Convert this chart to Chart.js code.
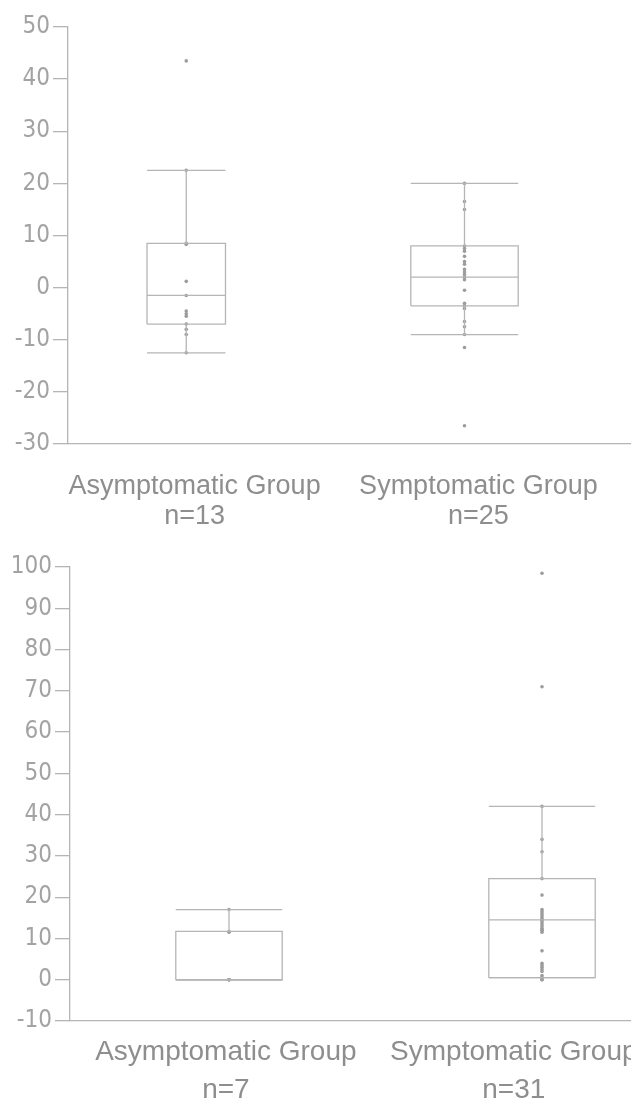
<!DOCTYPE html>
<html>
<head>
<meta charset="utf-8">
<script src="https://cdn.jsdelivr.net/npm/chart.js@4/dist/chart.umd.min.js"></script>
<style>
  html, body { margin: 0; padding: 0; background: #fff; overflow: hidden; }
  .panel { position: absolute; left: 0; width: 700px; }
  #top-panel { top: 0; height: 540px; }
  #bottom-panel { top: 545px; height: 562px; }
</style>
</head>
<body>
<div class="panel" id="top-panel"><canvas id="topChart"></canvas></div>
<div class="panel" id="bottom-panel"><canvas id="bottomChart"></canvas></div>
<script>
// Categories
const groups = ['Asymptomatic Group', 'Symptomatic Group'];

// Top panel - individual values
const topAsymPoints = [43.5, 22.5, 8.5, 8.3, 1.2, -1.5, -4.5, -5.0, -5.5, -7.0, -8.0, -9.0, -12.5];
const topSymPoints = [20, 16.5, 15, 8, 7.5, 7, 6, 5, 4.5, 3.5, 3, 2.5, 2, 2, 1.5, -0.5, -3, -3.5, -3.5, -4, -6.5, -7.5, -9, -11.5, -26.5];
// box stats: [Asymptomatic, Symptomatic]
const topLowWhisker = [-12.5, -9];
const topQ1 = [-7, -3.5];
const topMedian = [-1.5, 2];
const topQ3 = [8.5, 8];
const topHighWhisker = [22.5, 20];
const topTicks = [-30, 50, 10]; // min, max, step

// Bottom panel
const botAsymPoints = [17, 11.7, 11.5, 0, 0, 0, 0];
const botSymPoints = [98.5, 71, 42, 34, 31, 24.5, 20.5, 17, 16.5, 16, 15.5, 15, 14.5, 14.5, 14, 13.5, 13, 12.5, 12, 12, 11.5, 7, 4, 3.5, 3, 2.5, 2, 1, 0.5, 0, 0];
const botLowWhisker = [0, 0.5];
const botQ1 = [0, 0.5];
const botMedian = [0, 14.5];
const botQ3 = [11.7, 24.5];
const botHighWhisker = [17, 42];
const botTicks = [-10, 100, 10];

const lineColor = '#b5b5b5';
const dotColor = '#9c9c9c';
const textColor = '#a3a3a3';

function seg(points) {
    return {
        type: 'scatter',
        data: points,
        showLine: true,
        borderColor: lineColor,
        borderWidth: 1.3,
        pointRadius: 0,
        fill: false
    };
}

// build line segments for each box from the stats arrays
function boxDatasets(low, q1, med, q3, high, halfWidths) {
    const out = [];
    for (let i = 0; i < low.length; i++) {
        const c = i + 1;
        const h = halfWidths[i];
        out.push(seg([{x: c - h, y: q1[i]}, {x: c + h, y: q1[i]}, {x: c + h, y: q3[i]}, {x: c - h, y: q3[i]}, {x: c - h, y: q1[i]}]));
        out.push(seg([{x: c - h, y: med[i]}, {x: c + h, y: med[i]}]));
        out.push(seg([{x: c, y: q3[i]}, {x: c, y: high[i]}]));
        out.push(seg([{x: c - h, y: high[i]}, {x: c + h, y: high[i]}]));
        out.push(seg([{x: c, y: q1[i]}, {x: c, y: low[i]}]));
        out.push(seg([{x: c - h, y: low[i]}, {x: c + h, y: low[i]}]));
    }
    return out;
}

function pointDataset(values, idx) {
    return {
        type: 'scatter',
        data: values.map(v => ({x: idx, y: v})),
        pointRadius: 1.8,
        pointBackgroundColor: dotColor,
        pointBorderWidth: 0,
        showLine: false
    };
}

function makeChart(canvasId, cfg) {
    return new Chart(document.getElementById(canvasId), {
        type: 'scatter',
        data: {
            datasets: [
                ...boxDatasets(cfg.low, cfg.q1, cfg.med, cfg.q3, cfg.high, cfg.halfWidths),
                pointDataset(cfg.asym, 1),
                pointDataset(cfg.sym, 2)
            ]
        },
        options: {
            responsive: true,
            maintainAspectRatio: false,
            animation: false,
            events: [],
            layout: { padding: { top: cfg.padTop, left: 0, right: 0, bottom: 0 } },
            plugins: { legend: { display: false }, tooltip: { enabled: false } },
            scales: {
                x: {
                    type: 'linear',
                    min: cfg.xMin,
                    max: cfg.xMax,
                    // the printed group labels sit a little off the box centres
                    afterBuildTicks: scale => { scale.ticks = cfg.labelAt.map(v => ({value: v})); },
                    afterFit: scale => { scale.height = cfg.xHeight; },
                    grid: { drawOnChartArea: false, drawTicks: false },
                    border: { color: lineColor, width: 1.3 },
                    ticks: {
                        padding: cfg.labelPad,
                        maxRotation: 0,
                        autoSkip: false,
                        color: '#8e8e8e',
                        font: { family: "'Liberation Sans', Arial, sans-serif", size: cfg.labelSize, lineHeight: cfg.labelLh },
                        callback: (v, i) => [groups[i], 'n=' + cfg.counts[i]]
                    }
                },
                y: {
                    min: cfg.yTicks[0],
                    max: cfg.yTicks[1],
                    afterFit: scale => { scale.width = cfg.yWidth; },
                    grid: { drawOnChartArea: false, drawTicks: true, tickLength: 15, color: lineColor, lineWidth: 1.3 },
                    border: { color: lineColor, width: 1.3 },
                    ticks: {
                        stepSize: cfg.yTicks[2],
                        padding: 3,
                        color: textColor,
                        font: { family: "'Liberation Sans Narrow', 'DejaVu Sans Condensed', sans-serif", size: 24 }
                    }
                }
            }
        }
    });
}

makeChart('topChart', {
    asym: topAsymPoints, sym: topSymPoints,
    low: topLowWhisker, q1: topQ1, med: topMedian, q3: topQ3, high: topHighWhisker,
    counts: [topAsymPoints.length, topSymPoints.length],
    halfWidths: [0.141, 0.193],
    labelAt: [1.03, 2.05],
    yTicks: topTicks,
    xMin: 0.575, xMax: 2.832,
    padTop: 27, xHeight: 96, yWidth: 68,
    labelPad: 28, labelSize: 27, labelLh: 1.1
});

makeChart('bottomChart', {
    asym: botAsymPoints, sym: botSymPoints,
    low: botLowWhisker, q1: botQ1, med: botMedian, q3: botQ3, high: botHighWhisker,
    counts: [botAsymPoints.length, botSymPoints.length],
    halfWidths: [0.17, 0.17],
    labelAt: [0.99, 1.91],
    yTicks: botTicks,
    xMin: 0.492, xMax: 2.492,
    padTop: 22, xHeight: 86, yWidth: 70,
    labelPad: 12, labelSize: 28, labelLh: 1.36
});
</script>
</body>
</html>
